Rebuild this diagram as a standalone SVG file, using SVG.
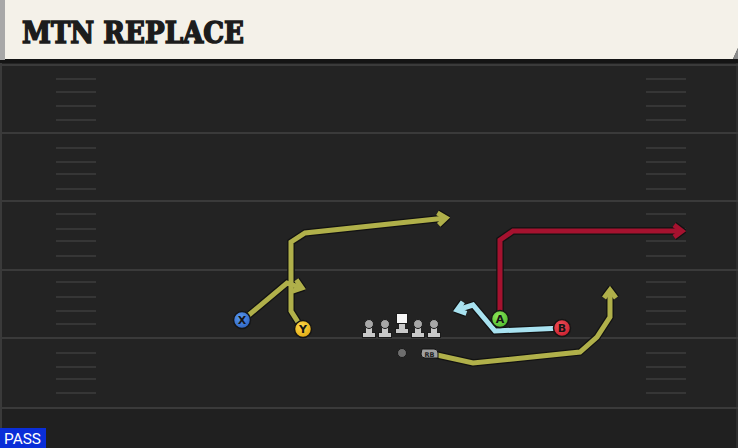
<svg xmlns="http://www.w3.org/2000/svg" width="738" height="448" viewBox="0 0 738 448">
<defs>
<style>
.yl{stroke:#3a3a3a;stroke-width:2}
.hm{stroke:#363636;stroke-width:2}
.o{fill:none;stroke:#121212;stroke-width:7.5;stroke-linejoin:miter;stroke-linecap:butt}
.y{fill:none;stroke:#b0b04a;stroke-width:5;stroke-linejoin:miter}
.r{fill:none;stroke:#a5122f;stroke-width:5;stroke-linejoin:miter}
.b{fill:none;stroke:#a8e2f0;stroke-width:5;stroke-linejoin:miter}
.pl{stroke:#151515;stroke-width:1.5}
.lt{font-family:"DejaVu Sans","Liberation Sans",sans-serif;font-weight:bold;font-size:11px;fill:#151515;text-anchor:middle}
.ol{fill:#c8c8c8;stroke:#1a1a1a;stroke-width:1}
.st{fill:#c8c8c8}
.hd{fill:#a8a8a8;stroke:#1a1a1a;stroke-width:1}
</style>
<marker id="mo" markerUnits="userSpaceOnUse" viewBox="-12 -10 16 20" refX="0" refY="0" markerWidth="16" markerHeight="20" orient="auto"><path d="M-8,-6 L0,0 L-8,6" fill="none" stroke="#121212" stroke-width="7.5"/></marker>
<marker id="my" markerUnits="userSpaceOnUse" viewBox="-12 -10 16 20" refX="0" refY="0" markerWidth="16" markerHeight="20" orient="auto"><path d="M-8,-6 L0,0 L-8,6" fill="none" stroke="#b0b04a" stroke-width="5"/></marker>
<marker id="mr" markerUnits="userSpaceOnUse" viewBox="-12 -10 16 20" refX="0" refY="0" markerWidth="16" markerHeight="20" orient="auto"><path d="M-8,-6 L0,0 L-8,6" fill="none" stroke="#a5122f" stroke-width="5"/></marker>
<marker id="mb" markerUnits="userSpaceOnUse" viewBox="-12 -10 16 20" refX="0" refY="0" markerWidth="16" markerHeight="20" orient="auto"><path d="M-8,-6 L0,0 L-8,6" fill="none" stroke="#a8e2f0" stroke-width="5"/></marker>
<radialGradient id="gx" cx="0.4" cy="0.35" r="0.7"><stop offset="0" stop-color="#5a98ee"/><stop offset="1" stop-color="#2c62c0"/></radialGradient>
<radialGradient id="gy" cx="0.4" cy="0.35" r="0.7"><stop offset="0" stop-color="#ffd84a"/><stop offset="1" stop-color="#e0a810"/></radialGradient>
<radialGradient id="ga" cx="0.4" cy="0.35" r="0.7"><stop offset="0" stop-color="#8ee85a"/><stop offset="1" stop-color="#4cb82c"/></radialGradient>
<radialGradient id="gb" cx="0.4" cy="0.35" r="0.7"><stop offset="0" stop-color="#f0505a"/><stop offset="1" stop-color="#c81e2c"/></radialGradient>
</defs>

<!-- field -->
<rect x="0" y="0" width="738" height="448" fill="#232323"/>
<rect x="0" y="408" width="738" height="40" fill="#202020"/>
<rect x="0" y="60" width="2" height="388" fill="#3a3a3a"/>
<rect x="736" y="60" width="2" height="388" fill="#2e2e2e"/>
<g id="yardlines">
<line class="yl" x1="0" y1="65" x2="738" y2="65"/>
<line class="yl" x1="0" y1="133" x2="738" y2="133"/>
<line class="yl" x1="0" y1="201" x2="738" y2="201"/>
<line class="yl" x1="0" y1="270" x2="738" y2="270"/>
<line class="yl" x1="0" y1="338" x2="738" y2="338"/>
<line class="yl" x1="0" y1="408" x2="738" y2="408"/>
</g>
<g id="hashes">
<path class="hm" d="M56,79H96M56,92H96M56,106H96M56,120H96M56,148H96M56,162H96M56,174H96M56,189H96M56,214H96M56,229H96M56,241H96M56,256H96M56,282H96M56,297H96M56,311H96M56,324H96M56,353H96M56,367H96M56,379H96M56,393H96"/>
<path class="hm" d="M646,79H686M646,92H686M646,106H686M646,120H686M646,148H686M646,162H686M646,174H686M646,189H686M646,214H686M646,229H686M646,241H686M646,256H686M646,282H686M646,297H686M646,311H686M646,324H686M646,353H686M646,367H686M646,379H686M646,393H686"/>
</g>

<!-- header -->
<g id="header">
<rect x="0" y="58" width="738" height="5" fill="#141414"/>
<path d="M0,0 H738 V48 L733,59 H0 Z" fill="#f4f1e9"/>
<path d="M733,59 L738,48 V59 Z" fill="#8a8a8a"/>
<rect x="0" y="0" width="5" height="60" fill="#a8a8a8"/>
<text x="22" y="43" font-family="'DejaVu Serif','Liberation Serif',serif" font-weight="900" font-size="30" fill="#1c1c1c" stroke="#1c1c1c" stroke-width="1.6" stroke-linejoin="miter" textLength="222" lengthAdjust="spacingAndGlyphs">MTN REPLACE</text>
</g>

<!-- connectors -->
<g id="connectors">
<polyline class="o" points="303,330 291,311 291,242 305,233 446,218" marker-end="url(#mo)"/>
<polyline class="o" points="243,320 287,283 302,288" marker-end="url(#mo)"/>
<polyline class="o" points="500,319 500,240 513,231 682,231" marker-end="url(#mo)"/>
<polyline class="o" points="563,328 495,331 473,305 457,310" marker-end="url(#mo)"/>
<polyline class="o" points="437,355 473,363 580,352 597,337 610,317 610,290" marker-end="url(#mo)"/>

<polyline class="y" points="303,330 291,311 291,242 305,233 446,218" marker-end="url(#my)"/>
<polyline class="y" points="243,320 287,283 302,288" marker-end="url(#my)"/>
<polyline class="r" points="500,319 500,240 513,231 682,231" marker-end="url(#mr)"/>
<polyline class="b" points="563,328 495,331 473,305 457,310" marker-end="url(#mb)"/>
<polyline class="y" points="437,355 473,363 580,352 597,337 610,317 610,290" marker-end="url(#my)"/>
</g>

<!-- line -->
<g id="oline">
<g id="lt"><rect class="ol" x="362.5" y="332.5" width="13" height="5"/><rect class="st" x="366" y="324" width="6" height="9"/><circle class="hd" cx="369" cy="324" r="4.5"/></g>
<g id="lg"><rect class="ol" x="378.5" y="332.5" width="13" height="5"/><rect class="st" x="382" y="324" width="6" height="9"/><circle class="hd" cx="385" cy="324" r="4.5"/></g>
<g id="c"><rect class="ol" x="395.5" y="328.5" width="13" height="5"/><rect class="st" x="399" y="321" width="6" height="8"/><rect x="396.5" y="313.5" width="11" height="10" fill="#f6f6f6" stroke="#1a1a1a" stroke-width="1"/></g>
<g id="rg"><rect class="ol" x="411.5" y="332.5" width="13" height="5"/><rect class="st" x="415" y="324" width="6" height="9"/><circle class="hd" cx="418" cy="324" r="4.5"/></g>
<g id="rt"><rect class="ol" x="427.5" y="332.5" width="13" height="5"/><rect class="st" x="431" y="324" width="6" height="9"/><circle class="hd" cx="434" cy="324" r="4.5"/></g>
</g>
<g id="qb"><circle cx="402" cy="353" r="4.5" fill="#6e6e6e" stroke="#1a1a1a" stroke-width="1"/></g>
<g id="rb"><path d="M422,349 H434 Q438,349 438,353 V358 H425 Q421,358 421,354 Z" fill="#a0a0a0" stroke="#151515" stroke-width="1"/><text x="429.5" y="356.5" font-family="'DejaVu Sans',sans-serif" font-weight="bold" font-size="6.5" fill="#222" text-anchor="middle">RB</text></g>

<!-- players -->
<g id="X"><circle class="pl" cx="242" cy="320" r="8.5" fill="url(#gx)"/><text class="lt" x="242" y="324">X</text></g>
<g id="Y"><circle class="pl" cx="303" cy="329" r="8.5" fill="url(#gy)"/><text class="lt" x="303" y="333">Y</text></g>
<g id="A"><circle class="pl" cx="500" cy="319" r="8.5" fill="url(#ga)"/><text class="lt" x="500" y="323">A</text></g>
<g id="B"><circle class="pl" cx="562" cy="328" r="8.5" fill="url(#gb)"/><text class="lt" x="562" y="332">B</text></g>

<!-- tag -->
<g id="pass"><rect x="0" y="428" width="46" height="20" fill="#0a2ed8"/><text x="4" y="444" font-family="Roboto,'Liberation Sans',sans-serif" font-size="15" fill="#ffffff" textLength="37" lengthAdjust="spacingAndGlyphs">PASS</text></g>
</svg>
